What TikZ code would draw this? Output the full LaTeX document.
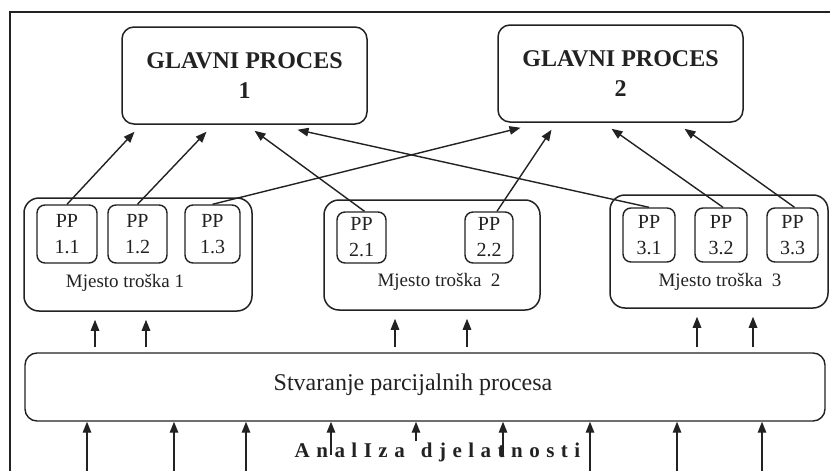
\documentclass[tikz,border=0pt]{standalone}
\usepackage{fontspec}
\setmainfont{Liberation Serif}
\usetikzlibrary{arrows.meta,calc}
\definecolor{ink}{HTML}{222222}
\newcommand\lsp{\kern6.5pt}
\begin{document}
\begin{tikzpicture}[x=1pt,y=-1pt,
  every node/.style={text=ink},
  gpbox/.style={draw=ink, line width=1.5pt, rounded corners=12pt, inner sep=0pt,
    align=center, font=\bfseries\fontsize{24}{30}\selectfont},
  mtbox/.style={draw=ink, line width=1.5pt, rounded corners=15pt, inner sep=0pt},
  ppbox/.style={draw=ink, line width=1.4pt, rounded corners=8pt, inner sep=0pt,
    align=center, font=\fontsize{20}{26}\selectfont},
  spbox/.style={draw=ink, line width=1.4pt, rounded corners=12pt, inner sep=0pt},
  mtlabel/.style={inner sep=0pt, font=\fontsize{19}{22}\selectfont},
  arr/.style={draw=ink, line width=1.4pt, -{Triangle[length=11pt,width=8.5pt]}},
  frame/.style={draw=ink, line width=1.5pt}]
\useasboundingbox (0,0) rectangle (830,471);
\fill[white] (0,0) rectangle (830,471);

% outer frame (top and left edges)
\draw[frame] (10,472) -- (10,12) -- (831,12);

% main processes
\node[gpbox, minimum width=245pt, minimum height=97pt] (gp1) at (244.5,75.5) {GLAVNI PROCES\\1};
\node[gpbox, minimum width=245pt, minimum height=97pt] (gp2) at (620.5,73.5) {GLAVNI PROCES\\2};

% cost centres
\node[mtbox, minimum width=228pt, minimum height=113pt] (mt1) at (138,254.5) {};
\node[mtbox, minimum width=216pt, minimum height=110pt] (mt2) at (432,255) {};
\node[mtbox, minimum width=218pt, minimum height=113pt] (mt3) at (719,251.5) {};
\node[mtlabel] (mt1lab) at (125,283) {Mjesto troška 1};
\node[mtlabel] (mt2lab) at (439,282) {Mjesto troška\ \ 2};
\node[mtlabel] (mt3lab) at (720,282) {Mjesto troška\ \ 3};

% partial processes
\node[ppbox, minimum width=60pt, minimum height=58pt] (pp11) at (67,234) {PP\\1.1};
\node[ppbox, minimum width=59pt, minimum height=58pt] (pp12) at (137.5,234) {PP\\1.2};
\node[ppbox, minimum width=55pt, minimum height=58pt] (pp13) at (212.5,234) {PP\\1.3};
\node[ppbox, minimum width=49pt, minimum height=51pt] (pp21) at (361.5,237.5) {PP\\2.1};
\node[ppbox, minimum width=48pt, minimum height=51pt] (pp22) at (489,237.5) {PP\\2.2};
\node[ppbox, minimum width=52pt, minimum height=54pt] (pp31) at (649,235) {PP\\3.1};
\node[ppbox, minimum width=52pt, minimum height=54pt] (pp32) at (721,235) {PP\\3.2};
\node[ppbox, minimum width=51pt, minimum height=54pt] (pp33) at (792.5,235) {PP\\3.3};

% creation of partial processes
\node[spbox, minimum width=800pt, minimum height=68pt] (sp) at (425,387) {};
\node[inner sep=0pt, font=\fontsize{24}{28}\selectfont] (splab) at (413,385) {Stvaranje parcijalnih procesa};

% activity analysis
\node[inner sep=0pt, font=\bfseries\fontsize{21}{23}\selectfont] (an) at (437.5,452)
  {A\lsp n\lsp a\lsp l\lsp I\lsp z\lsp a\kern16pt d\lsp j\lsp e\lsp l\lsp a\lsp t\lsp n\lsp o\lsp s\lsp t\lsp i};

% partial processes feeding the main processes
\draw[arr] (pp11.north) -- ($(gp1.south)+(-110,7)$);
\draw[arr] (pp12.north) -- ($(gp1.south)+(-38,7)$);
\draw[arr] ($(pp21.north)+(3,0)$) -- ($(gp1.south)+(10,6)$);
\draw[arr] (pp31.north) -- ($(gp1.south)+(53,5)$);
\draw[arr] (pp13.north) -- ($(gp2.south)+(-100,5)$);
\draw[arr] ($(pp22.north)+(8,0)$) -- ($(gp2.south)+(-69,7)$);
\draw[arr] ($(pp32.north)+(2,0)$) -- ($(gp2.south)+(-9,6)$);
\draw[arr] ($(pp33.north)+(2,0)$) -- ($(gp2.south)+(64,6)$);

% creation box feeding the cost centres
\foreach \x/\m in {95/mt1,146/mt1,395/mt2,467/mt2,697/mt3,753/mt3} {
  \coordinate (up\x) at (\x,0);
  \draw[arr, shorten <=5pt, shorten >=8pt] (up\x |- sp.north) -- (up\x |- \m.south);
}

% analysis inputs into the creation box
\foreach \x/\y in {87/472,174/472,246/472,331/455,416/441,503/456,590/472,677/472,762/472} {
  \coordinate (in\x) at (\x,\y);
  \draw[arr] (in\x) -- (in\x |- sp.south);
}
\end{tikzpicture}
\end{document}
